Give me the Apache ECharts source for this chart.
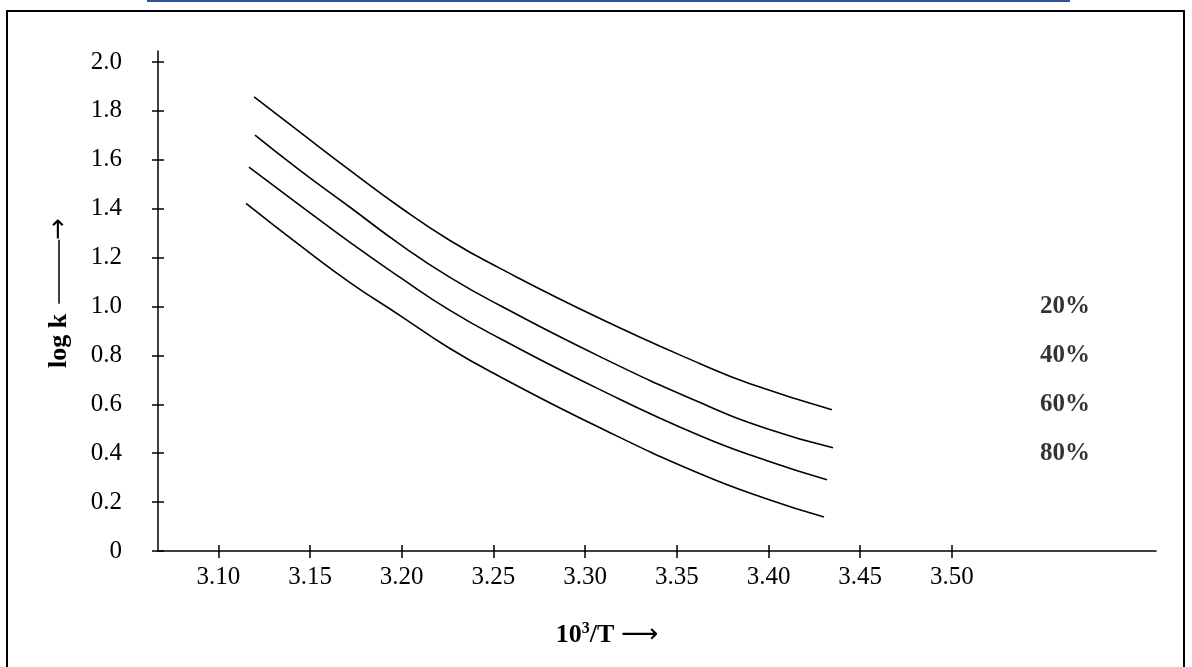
<!DOCTYPE html>
<html>
<head>
<meta charset="utf-8">
<script src="https://cdn.jsdelivr.net/npm/echarts@6/dist/echarts.min.js"></script>
<style>
html, body { margin: 0; padding: 0; background: #fff; }
#chart_main { width: 1192px; height: 667px; }
</style>
</head>
<body>
<div id="chart_main"></div>
<script>
var chartMain = echarts.init(document.getElementById('chart_main'));

// 刻度
var xTicks = [3.10, 3.15, 3.20, 3.25, 3.30, 3.35, 3.40, 3.45, 3.50];
var yTicks = [0, 0.2, 0.4, 0.6, 0.8, 1.0, 1.2, 1.4, 1.6, 1.8, 2.0];

// 各曲线 (10^3/T , log k)
var names = ['20%', '40%', '60%', '80%'];
var x20 = [3.1195, 3.1445, 3.1718, 3.1991, 3.2263, 3.2536, 3.3081, 3.3627, 3.3899, 3.4346];
var y20 = [1.857, 1.713, 1.557, 1.406, 1.270, 1.156, 0.951, 0.766, 0.684, 0.578];
var x40 = [3.1200, 3.1445, 3.1718, 3.1991, 3.2263, 3.2536, 3.3081, 3.3627, 3.3992, 3.4352];
var y40 = [1.701, 1.557, 1.406, 1.254, 1.119, 1.004, 0.795, 0.607, 0.500, 0.422];
var x60 = [3.1167, 3.1445, 3.1718, 3.1991, 3.2263, 3.2536, 3.3081, 3.3627, 3.3992, 3.4319];
var y60 = [1.570, 1.414, 1.262, 1.119, 0.984, 0.869, 0.660, 0.471, 0.369, 0.291];
var x80 = [3.1151, 3.1445, 3.1718, 3.1991, 3.2263, 3.2536, 3.3081, 3.3627, 3.3992, 3.4303];
var y80 = [1.422, 1.250, 1.098, 0.963, 0.828, 0.713, 0.504, 0.316, 0.213, 0.139];

// 右侧标注位置
var labelX = 3.5617;
var labelY = [1.0, 0.8, 0.6, 0.4];

var curveX = [x20, x40, x60, x80];
var curveY = [y20, y40, y60, y80];

function pairs(xs, ys) {
	var arr = [];
	for (var i = 0; i < xs.length; i++) {
		arr.push([xs[i], ys[i]]);
	}
	return arr;
}

var serif = '"Liberation Serif", "Times New Roman", serif';

var series = [];
for (var k = 0; k < names.length; k++) {
	series.push({
		name: names[k],
		type: 'line',
		smooth: 0.5,
		showSymbol: false,
		symbol: 'none',
		lineStyle: { color: '#000', width: 1.6 },
		data: pairs(curveX[k], curveY[k])
	});
}

var labelData = [];
for (var j = 0; j < names.length; j++) {
	labelData.push({ value: [labelX, labelY[j]], name: names[j] });
}
series.push({
	type: 'scatter',
	symbolSize: 1,
	itemStyle: { color: 'rgba(0,0,0,0)' },
	label: {
		show: true,
		position: 'inside',
		formatter: '{b}',
		fontFamily: serif,
		fontWeight: 'bold',
		fontSize: 25,
		color: '#000'
	},
	data: labelData
});

var xMin = 3.0671, xMax = 3.6113;
var yMin = 0, yMax = 2.045;

var option_main = {
	animation: false,
	backgroundColor: '#fff',
	grid: {
		left: 158,
		right: 36,
		top: 51,
		bottom: 116
	},
	xAxis: [{
		type: 'value',
		min: xMin,
		max: xMax,
		position: 'bottom',
		splitLine: { show: false },
		axisLine: { show: true, onZero: false, lineStyle: { color: '#000', width: 1.5 } },
		axisTick: { show: true, inside: false, length: 7, customValues: xTicks, lineStyle: { color: '#000', width: 1.5 } },
		axisLabel: {
			show: true,
			customValues: xTicks,
			margin: 14,
			formatter: function (v) { return v.toFixed(2); },
			fontFamily: serif,
			fontSize: 25,
			color: '#000'
		},
		name: '{b|10}{s|3}{b|/T }{a|⟶}',
		nameLocation: 'middle',
		nameGap: 70,
		nameTextStyle: {
			padding: [0, 100, 0, 0],
			rich: {
				b: { fontFamily: serif, fontWeight: 'bold', fontSize: 26, color: '#000' },
				s: { fontFamily: serif, fontWeight: 'bold', fontSize: 16, color: '#000', padding: [0, 0, 12, 0] },
				a: { fontFamily: 'DejaVu Sans', fontSize: 26, color: '#000' }
			}
		}
	}, {
		type: 'value',
		min: xMin,
		max: xMax,
		position: 'bottom',
		splitLine: { show: false },
		axisLine: { show: false },
		axisTick: { show: true, inside: true, length: 6, customValues: xTicks, lineStyle: { color: '#000', width: 1.5 } },
		axisLabel: { show: false }
	}],
	yAxis: [{
		type: 'value',
		min: yMin,
		max: yMax,
		position: 'left',
		splitLine: { show: false },
		axisLine: { show: true, onZero: false, lineStyle: { color: '#000', width: 1.5 } },
		axisTick: { show: true, inside: false, length: 6, customValues: yTicks, lineStyle: { color: '#000', width: 1.5 } },
		axisLabel: {
			show: true,
			customValues: yTicks,
			margin: 36,
			formatter: function (v) { return v === 0 ? '0' : v.toFixed(1); },
			fontFamily: serif,
			fontSize: 25,
			color: '#000'
		},
		name: '{b|log k}   {ln|}{a|→}',
		nameLocation: 'middle',
		nameGap: 86,
		nameTextStyle: {
			padding: [0, 0, 0, 16],
			rich: {
				b: { fontFamily: serif, fontWeight: 'bold', fontSize: 26, color: '#000' },
				ln: { width: 64, height: 1.5, backgroundColor: '#000' },
				a: { fontFamily: 'DejaVu Sans', fontSize: 26, color: '#000' }
			}
		}
	}, {
		type: 'value',
		min: yMin,
		max: yMax,
		position: 'left',
		splitLine: { show: false },
		axisLine: { show: false },
		axisTick: { show: true, inside: true, length: 6, customValues: yTicks, lineStyle: { color: '#000', width: 1.5 } },
		axisLabel: { show: false }
	}],
	graphic: [{
		type: 'rect',
		shape: { x: 7, y: 11, width: 1177, height: 700 },
		style: { fill: 'none', stroke: '#000', lineWidth: 2 },
		silent: true
	}, {
		type: 'line',
		shape: { x1: 147, y1: 1, x2: 1070, y2: 1 },
		style: { stroke: '#2e5597', lineWidth: 2 },
		silent: true
	}],
	series: series
};

chartMain.setOption(option_main);
</script>
</body>
</html>
